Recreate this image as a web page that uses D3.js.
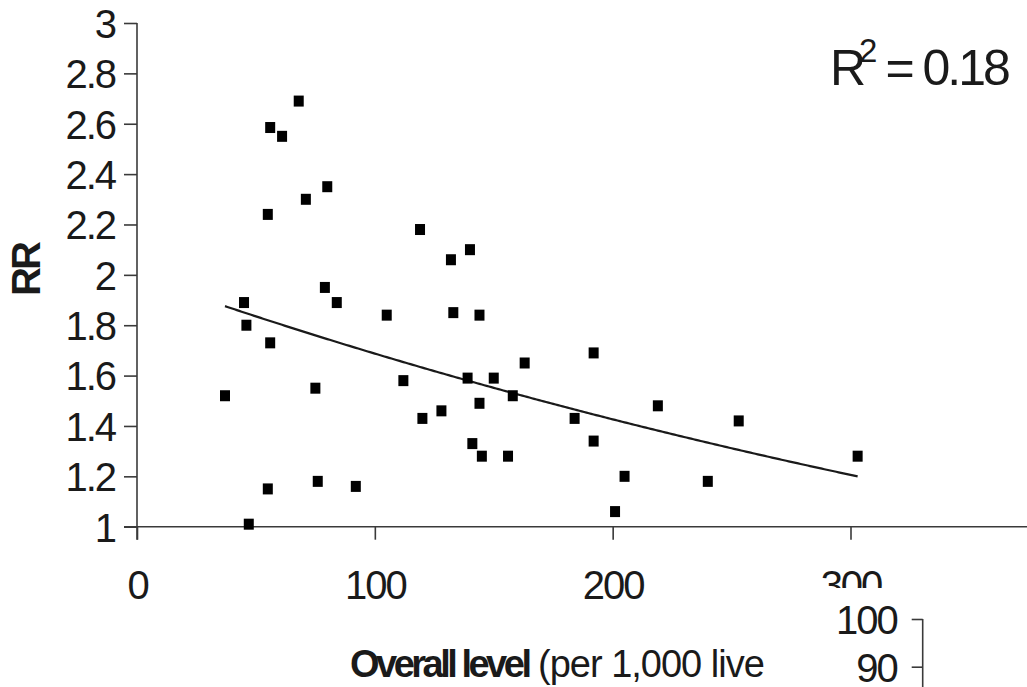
<!DOCTYPE html>
<html>
<head>
<meta charset="utf-8">
<script src="https://cdn.jsdelivr.net/npm/d3@7"></script>
<style>
  html, body { margin: 0; padding: 0; background: #fff; }
  svg { display: block; }
  text { font-family: "Liberation Sans", Arial, sans-serif; fill: #1a1a1a; }
</style>
</head>
<body>
<svg id="chart" width="1027" height="687"></svg>
<script>
// ---- data ----
const overallLevel = [68, 56, 61, 80, 71, 55, 119, 140, 132, 79, 84, 45, 46, 105, 133, 144, 56, 37, 75, 112, 139, 150, 144, 120, 128, 141, 145, 156, 55, 76, 92, 47, 163, 192, 158, 184, 219, 192, 205, 240, 253, 303, 201];
const rrValues     = [2.69, 2.585, 2.55, 2.35, 2.30, 2.24, 2.18, 2.10, 2.06, 1.95, 1.89, 1.89, 1.80, 1.84, 1.85, 1.84, 1.73, 1.52, 1.55, 1.58, 1.59, 1.59, 1.49, 1.43, 1.46, 1.33, 1.28, 1.28, 1.15, 1.18, 1.16, 1.01, 1.65, 1.69, 1.52, 1.43, 1.48, 1.34, 1.20, 1.18, 1.42, 1.28, 1.06];
const xTicks = [0, 100, 200, 300];
const xTickLabels = ["0", "100", "200", "300"];
const yTicks = [1, 1.2, 1.4, 1.6, 1.8, 2, 2.2, 2.4, 2.6, 2.8, 3];
const yTickLabels = ["1", "1.2", "1.4", "1.6", "1.8", "2", "2.2", "2.4", "2.6", "2.8", "3"];
const trendCoef = [1.996, -0.00168];   // exponential trend y = a * e^(b x)
const trendRange = [37, 303];
const rSquared = "0.18";
const insetTicks = [90, 100];
const insetTickLabels = ["90", "100"];

// ---- drawing ----
const svg = d3.select("#chart");
const axisColor = "#3a3a3a";

const x = d3.scaleLinear().domain([0, 300]).range([137, 850.5]);
const y = d3.scaleLinear().domain([1, 3]).range([526.7, 23]);

// y axis
const yAxis = d3.axisLeft(y).tickValues(yTicks).tickFormat((d, i) => yTickLabels[i])
  .tickSize(13).tickPadding(9);
const gy = svg.append("g").attr("transform", `translate(${x(0)},0)`).call(yAxis);
gy.select(".domain").remove();
gy.selectAll(".tick line").attr("stroke", axisColor).attr("stroke-width", 1.6);
gy.selectAll(".tick text").attr("font-size", 40).attr("letter-spacing", -2)
  .attr("font-family", "Liberation Sans, Arial, sans-serif").attr("fill", "#1a1a1a").attr("dy", "0.36em");

// x axis
const xAxis = d3.axisBottom(x).tickValues(xTicks).tickFormat((d, i) => xTickLabels[i])
  .tickSize(13).tickPadding(31);
const gx = svg.append("g").attr("transform", `translate(0,${y(1)})`).call(xAxis);
gx.select(".domain").remove();
gx.selectAll(".tick line").attr("stroke", axisColor).attr("stroke-width", 1.6);
gx.selectAll(".tick text").attr("font-size", 40).attr("letter-spacing", -2)
  .attr("font-family", "Liberation Sans, Arial, sans-serif").attr("fill", "#1a1a1a");

// axis lines
svg.append("line").attr("x1", x(0)).attr("x2", x(0)).attr("y1", y(3)).attr("y2", y(1) + 13)
  .attr("stroke", axisColor).attr("stroke-width", 1.6);
svg.append("line").attr("x1", x(0) - 13).attr("x2", 1027).attr("y1", y(1)).attr("y2", y(1))
  .attr("stroke", axisColor).attr("stroke-width", 1.6);

// trend line
const trendPts = d3.range(trendRange[0], trendRange[1] + 0.5, 1)
  .map(v => [v, trendCoef[0] * Math.exp(trendCoef[1] * v)]);
svg.append("path").datum(trendPts)
  .attr("d", d3.line().x(d => x(d[0])).y(d => y(d[1])))
  .attr("fill", "none").attr("stroke", "#1a1a1a").attr("stroke-width", 2.2);

// points
const pts = overallLevel.map((v, i) => ({ x: v, y: rrValues[i] }));
svg.append("g").selectAll("rect").data(pts).join("rect")
  .attr("x", d => x(d.x) - 5).attr("y", d => y(d.y) - 5.5)
  .attr("width", 10).attr("height", 11).attr("fill", "#000");

// y-axis title
svg.append("text").attr("transform", "translate(40,270) rotate(-90)")
  .attr("text-anchor", "middle").attr("font-size", 40).attr("font-weight", "bold")
  .attr("letter-spacing", -3).text("RR");

// R² annotation
const r2 = svg.append("text").attr("x", 830).attr("y", 85).attr("font-size", 50);
r2.append("tspan").attr("letter-spacing", -1).text("R");
r2.append("tspan").attr("font-size", 33).attr("dx", -6).attr("dy", -23).text("2");
r2.append("tspan").attr("dy", 23).attr("dx", 8).attr("letter-spacing", -3).text("= " + rSquared);

// x-axis title (as visible in the reference, cut by the inset panel)
const xt = svg.append("text").attr("x", 350).attr("y", 677).attr("font-size", 38);
xt.append("tspan").attr("font-weight", "bold").attr("letter-spacing", -3.5).text("Overall level");
xt.append("tspan").attr("letter-spacing", -1).text(" (per 1,000 live");

// inset chart fragment (covers part of the page)
svg.append("rect").attr("x", 766).attr("y", 588).attr("width", 1027 - 766).attr("height", 687 - 588).attr("fill", "#fff");
const yi = d3.scaleLinear().domain([90, 100]).range([666.7, 619]);
const insetAxis = d3.axisLeft(yi).tickValues(insetTicks).tickFormat((d, i) => insetTickLabels[i])
  .tickSize(11).tickPadding(15);
const gi = svg.append("g").attr("transform", "translate(922.7,0)").call(insetAxis);
gi.select(".domain").remove();
gi.selectAll(".tick line").attr("stroke", axisColor).attr("stroke-width", 1.6);
gi.selectAll(".tick text").attr("font-size", 40).attr("letter-spacing", -2)
  .attr("font-family", "Liberation Sans, Arial, sans-serif").attr("fill", "#1a1a1a").attr("dy", "0.36em");
svg.append("line").attr("x1", 922.7).attr("x2", 922.7).attr("y1", yi(100)).attr("y2", 687)
  .attr("stroke", axisColor).attr("stroke-width", 1.6);
</script>
</body>
</html>
